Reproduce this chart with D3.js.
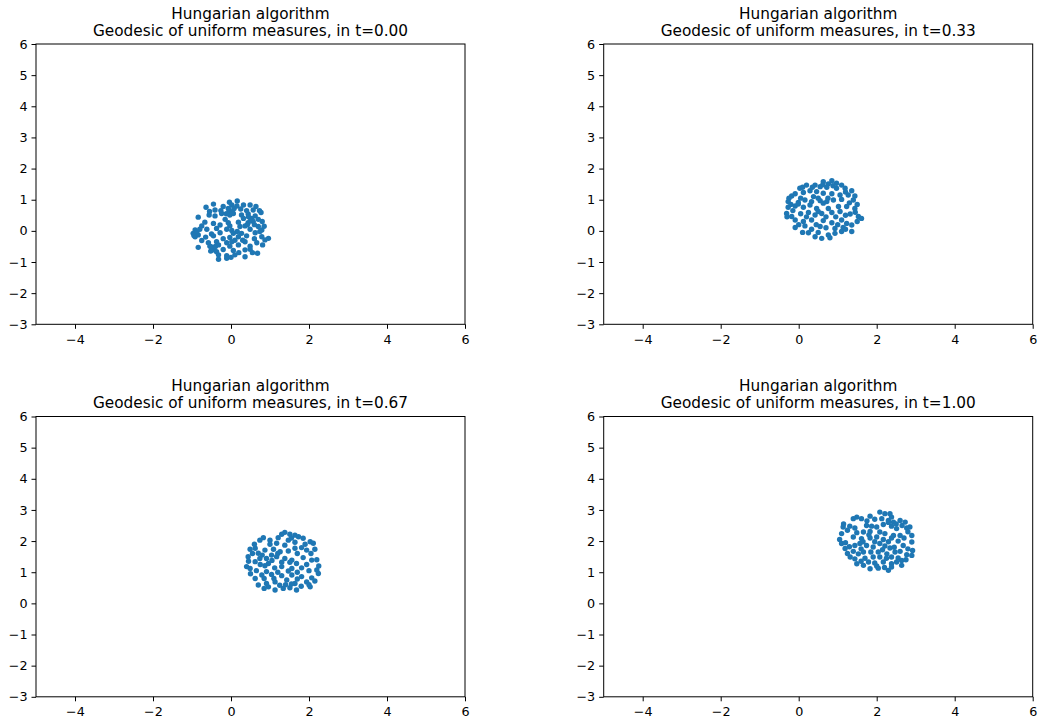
<!DOCTYPE html>
<html>
<head>
<meta charset="utf-8">
<script src="https://cdn.jsdelivr.net/npm/d3@7"></script>
<style>
  body { margin: 0; background: #fff; }
  svg text { font-family: "DejaVu Sans", sans-serif; fill: #000; }
</style>
</head>
<body>
<div id="chart"></div>
<script>
// point clouds, [x, y] in data units
const ptsT000 = [
  [-0.04,0.92],[0.16,0.96],[-0.45,0.86],[0.02,0.83],[0.32,0.83],[0.49,0.83],[0.64,0.78],[-0.64,0.76],
  [-0.07,0.72],[0.08,0.72],[-0.41,0.67],[-0.26,0.65],[-0.03,0.62],[0.40,0.65],[0.73,0.65],[0.57,0.67],
  [-0.56,0.51],[-0.41,0.48],[-0.24,0.56],[-0.03,0.51],[0.06,0.56],[0.27,0.51],[0.44,0.54],[0.77,0.59],
  [0.62,0.48],[-0.84,0.44],[-0.15,0.37],[0.32,0.40],[0.53,0.40],[0.70,0.37],[-0.67,0.28],[-0.45,0.24],
  [-0.07,0.26],[0.19,0.28],[0.44,0.26],[0.57,0.30],[0.80,0.30],[-0.75,0.16],[-0.03,0.16],[-0.28,0.19],
  [0.23,0.14],[0.36,0.16],[0.70,0.14],[-0.92,0.03],[-0.62,0.05],[-0.37,0.08],[-0.11,0.05],[0.02,0.01],
  [0.16,-0.02],[0.49,0.05],[0.79,0.03],[-0.97,-0.08],[-0.84,-0.13],[-0.50,-0.10],[-0.28,-0.06],[0.06,-0.08],
  [0.27,-0.08],[0.62,-0.06],[0.74,-0.02],[-0.92,-0.19],[-0.45,-0.16],[-0.03,-0.21],[0.19,-0.19],[0.40,-0.16],
  [0.96,-0.24],[0.79,-0.19],[-0.75,-0.31],[-0.58,-0.38],[-0.37,-0.35],[-0.11,-0.38],[0.02,-0.35],[0.36,-0.35],
  [0.66,-0.38],[0.87,-0.29],[-0.84,-0.53],[-0.54,-0.49],[-0.45,-0.56],[-0.32,-0.45],[-0.03,-0.49],[0.19,-0.45],
  [0.49,-0.49],[0.81,-0.45],[-0.45,-0.61],[-0.37,-0.67],[0.06,-0.63],[0.36,-0.61],[0.49,-0.59],[0.68,-0.72],
  [-0.32,-0.77],[-0.11,-0.80],[0.10,-0.77],[0.36,-0.83],[-0.32,-0.91],[-0.11,-0.88],
  [-0.88,-0.05],[-0.80,0.05],[-0.95,-0.15],[-0.05,0.68],[0.03,0.60],[-0.12,0.55],[-0.50,-0.52],[-0.40,-0.50],
  [-0.52,-0.65],[0.45,0.45],[0.50,0.33],[0.42,0.20],[0.15,0.80],[0.25,0.70],[-0.20,0.78],[-0.55,0.62],
  [0.60,0.20],[0.85,0.15],[0.60,-0.25],[0.30,-0.30],[0.10,-0.30],[-0.20,-0.25],[-0.65,-0.20],[0.20,-0.70],
  [0.00,-0.85],[-0.20,-0.60],[0.55,-0.70]
];
const ptsT033 = [
  [0.63,1.58],[0.85,1.61],[0.76,1.51],[0.97,1.53],[0.20,1.47],[0.03,1.37],[0.42,1.47],[0.55,1.42],
  [0.72,1.40],[1.10,1.47],[1.19,1.37],[1.36,1.29],[0.97,1.37],[-0.18,1.12],[-0.09,1.19],[0.12,1.23],
  [0.29,1.29],[0.46,1.26],[0.63,1.21],[0.85,1.19],[1.06,1.15],[1.27,1.15],[1.44,1.12],[0.38,1.10],
  [-0.27,0.94],[-0.01,0.91],[0.16,0.99],[0.33,0.94],[0.55,0.97],[0.72,0.94],[0.89,0.99],[1.10,1.01],
  [1.40,0.99],[-0.01,0.86],[-0.27,0.76],[-0.09,0.80],[0.12,0.76],[0.29,0.83],[0.46,0.72],[0.63,0.89],
  [0.76,0.72],[1.02,0.78],[1.23,0.78],[1.44,0.72],[-0.31,0.56],[-0.18,0.46],[0.25,0.59],[0.42,0.51],
  [0.59,0.56],[0.85,0.59],[1.06,0.62],[1.32,0.54],[1.53,0.46],[1.61,0.40],[-0.09,0.35],[0.12,0.30],
  [0.33,0.35],[0.63,0.33],[0.85,0.26],[1.10,0.35],[1.36,0.19],[1.23,0.24],[-0.09,0.11],[0.16,0.16],
  [0.33,0.05],[0.55,0.14],[0.93,0.08],[1.14,0.11],[1.36,-0.02],[0.25,-0.06],[0.42,-0.19],[0.59,-0.24],
  [0.76,-0.13],[0.93,-0.08],[1.10,-0.02],
  [0.10,1.40],[0.35,1.40],[0.62,1.48],[0.88,1.45],[1.20,1.25],[-0.25,1.05],[-0.20,0.85],[0.05,1.05],
  [0.50,1.05],[0.75,1.05],[1.30,0.90],[1.50,0.85],[-0.15,0.65],[0.05,0.55],[0.50,0.62],[0.70,0.45],
  [0.95,0.45],[1.20,0.50],[1.45,0.60],[-0.30,0.45],[0.00,0.20],[0.20,0.45],[0.45,0.20],[0.70,0.10],
  [1.00,0.20],[1.50,0.30],[0.10,-0.05],[0.50,-0.05],[0.80,-0.22],[1.20,0.05]
];
const ptsT067 = [
  [1.38,2.28],[1.51,2.22],[1.64,2.19],[1.73,2.14],[1.85,2.09],[2.03,1.98],[2.11,1.93],[1.21,2.11],
  [0.83,2.11],[0.74,2.03],[1.00,2.03],[1.47,2.03],[1.17,1.93],[1.38,1.87],[1.64,1.96],[0.49,1.74],
  [0.62,1.77],[0.87,1.71],[1.09,1.74],[1.26,1.66],[1.47,1.68],[1.64,1.77],[1.81,1.79],[1.94,1.71],
  [2.15,1.74],[0.70,1.61],[1.04,1.55],[0.44,1.50],[0.74,1.44],[0.91,1.44],[1.17,1.50],[1.38,1.44],
  [1.56,1.39],[1.85,1.47],[2.07,1.39],[0.62,1.34],[0.96,1.28],[1.51,1.32],[1.68,1.28],[1.94,1.25],
  [0.40,1.18],[0.49,1.12],[0.87,1.21],[1.12,1.14],[1.30,1.18],[1.56,1.12],[1.81,1.14],[2.20,1.07],
  [0.91,1.02],[1.47,1.04],[0.62,0.80],[0.79,0.91],[1.04,0.93],[1.30,0.89],[1.56,0.91],[1.81,0.86],
  [2.07,0.82],[2.24,0.96],[0.70,0.59],[0.91,0.64],[1.13,0.69],[1.43,0.75],[1.64,0.64],[1.94,0.69],
  [2.15,0.72],[0.96,0.53],[1.13,0.43],[1.34,0.48],[1.51,0.50],[1.68,0.43],[2.03,0.53],
  [1.30,2.22],[1.55,2.10],[1.90,1.90],[1.00,1.90],[0.60,1.90],[0.55,1.60],[0.80,1.55],[1.20,1.60],
  [1.70,1.60],[2.05,1.60],[2.20,1.40],[1.30,1.32],[0.75,1.25],[0.45,1.35],[1.05,1.38],[0.65,1.05],
  [1.20,1.00],[1.70,1.00],[2.00,1.05],[2.25,1.20],[0.50,0.95],[0.85,0.80],[1.10,0.80],[1.70,0.78],
  [2.00,0.60],[0.85,0.48],[1.25,0.58],[1.55,0.62],[1.80,0.55],[1.40,0.60]
];
const ptsT100 = [
  [2.08,2.93],[2.21,2.88],[2.34,2.88],[2.38,2.77],[1.83,2.80],[1.49,2.77],[1.61,2.72],[1.40,2.72],
  [2.13,2.72],[2.30,2.66],[2.43,2.61],[2.60,2.66],[2.73,2.61],[1.14,2.45],[1.31,2.48],[1.44,2.42],
  [1.74,2.50],[1.87,2.48],[2.00,2.45],[2.17,2.53],[2.38,2.48],[2.51,2.40],[2.85,2.45],[2.77,2.42],
  [1.10,2.24],[1.49,2.27],[1.66,2.29],[1.83,2.31],[2.08,2.29],[2.21,2.24],[2.43,2.18],[2.60,2.18],
  [2.90,2.18],[1.40,2.13],[1.61,2.08],[1.83,2.10],[2.00,2.13],[2.17,2.05],[2.38,2.10],[2.90,1.97],
  [1.10,1.92],[1.19,1.76],[1.44,1.86],[1.57,1.92],[1.74,1.86],[1.91,1.81],[2.08,1.92],[2.21,1.84],
  [2.34,1.78],[2.68,1.86],[2.92,1.70],[1.40,1.67],[1.53,1.59],[1.66,1.65],[2.04,1.65],[2.26,1.59],
  [2.47,1.65],[2.60,1.67],[2.77,1.56],[1.32,1.49],[1.44,1.43],[1.91,1.49],[2.08,1.49],[2.38,1.49],
  [2.55,1.46],[2.64,1.38],[2.90,1.54],[1.49,1.27],[1.66,1.22],[1.79,1.33],[2.17,1.33],[2.38,1.27],
  [2.51,1.33],[2.64,1.22],[1.83,1.11],[2.04,1.13],[2.30,1.06],[2.38,1.17],
  [1.15,2.55],[1.25,2.35],[1.05,2.05],[1.20,1.95],[1.75,2.65],[1.95,2.70],[2.50,2.55],[2.65,2.50],
  [2.80,2.30],[2.70,2.10],[2.55,2.00],[2.30,1.98],[1.95,1.98],[1.65,1.98],[1.30,1.82],[1.60,1.75],
  [1.85,1.65],[2.15,1.72],[2.45,1.80],[2.80,1.75],[1.25,1.60],[1.70,1.45],[2.25,1.45],[2.75,1.40],
  [1.60,1.35],[1.95,1.30],[2.00,1.20],[2.20,1.15],[1.80,2.20],[2.30,2.60]
];

const panels = [
  { t: '0.00', pts: ptsT000 },
  { t: '0.33', pts: ptsT033 },
  { t: '0.67', pts: ptsT067 },
  { t: '1.00', pts: ptsT100 }
];
const xDomain = [-5, 6];
const yDomain = [-3, 6];
const xTicks = [-4, -2, 0, 2, 4, 6];
const yTicks = [-3, -2, -1, 0, 1, 2, 3, 4, 5, 6];

const W = 1041, H = 722;
const svg = d3.select('#chart').append('svg').attr('width', W).attr('height', H);

// axes boxes in pixels: [left, top]
const boxW = 429, boxH = 280.3;
const origins = [[36, 44], [603.7, 44], [36, 416.5], [603.7, 416.5]];

panels.forEach((p, i) => {
  const [l, t] = origins[i];
  const g = svg.append('g').attr('transform', `translate(${l},${t})`);
  const x = d3.scaleLinear().domain(xDomain).range([0, boxW]);
  const y = d3.scaleLinear().domain(yDomain).range([boxH, 0]);

  g.append('g')
    .selectAll('circle')
    .data(p.pts)
    .enter()
    .append('circle')
    .attr('cx', d => x(d[0]))
    .attr('cy', d => y(d[1]))
    .attr('r', 2.7)
    .attr('fill', '#1f77b4');

  const xa = g.append('g').attr('transform', `translate(0,${boxH})`)
    .call(d3.axisBottom(x).tickValues(xTicks).tickSize(4.5).tickPadding(6).tickFormat(d3.format('')));
  const ya = g.append('g')
    .call(d3.axisLeft(y).tickValues(yTicks).tickSize(4.5).tickPadding(4).tickFormat(d3.format('')));
  [xa, ya].forEach(a => {
    a.select('.domain').remove();
    a.selectAll('text').attr('font-size', 12.75).attr('font-family', '"DejaVu Sans", sans-serif').attr('fill', '#000');
    a.selectAll('line').attr('stroke', '#000').attr('stroke-width', 1);
  });

  g.append('rect')
    .attr('width', boxW).attr('height', boxH)
    .attr('fill', 'none').attr('stroke', '#000').attr('stroke-width', 1);

  const title = g.append('text')
    .attr('x', boxW / 2)
    .attr('text-anchor', 'middle')
    .attr('font-size', 15.3);
  title.append('tspan').attr('x', boxW / 2).attr('y', -25.5).text('Hungarian algorithm');
  title.append('tspan').attr('x', boxW / 2).attr('y', -8.5).text(`Geodesic of uniform measures, in t=${p.t}`);
});
</script>
</body>
</html>
